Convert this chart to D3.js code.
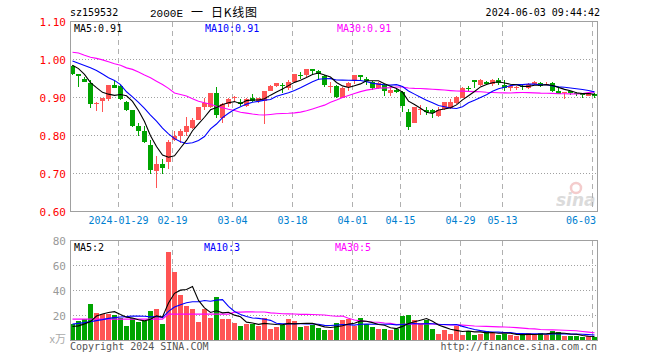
<!DOCTYPE html>
<html><head><meta charset="utf-8">
<script src="https://cdn.jsdelivr.net/npm/d3@7"></script>
<style>
html,body{margin:0;padding:0;background:#fff;}
svg{display:block;}
text{font-family:"DejaVu Sans Mono",monospace;font-size:10px;}
</style></head><body>
<svg id="chart" width="660" height="360"></svg>
<script>
// ---- data ----
const dates = ["2024-01-17","2024-01-18","2024-01-19","2024-01-22","2024-01-23","2024-01-24","2024-01-25","2024-01-26",
"2024-01-29","2024-01-30","2024-01-31","2024-02-01","2024-02-02","2024-02-05","2024-02-06","2024-02-07","2024-02-08",
"2024-02-19","2024-02-20","2024-02-21","2024-02-22","2024-02-23","2024-02-26","2024-02-27","2024-02-28","2024-02-29","2024-03-01",
"2024-03-04","2024-03-05","2024-03-06","2024-03-07","2024-03-08","2024-03-11","2024-03-12","2024-03-13","2024-03-14","2024-03-15",
"2024-03-18","2024-03-19","2024-03-20","2024-03-21","2024-03-22","2024-03-25","2024-03-26","2024-03-27","2024-03-28","2024-03-29",
"2024-04-01","2024-04-02","2024-04-03","2024-04-08","2024-04-09","2024-04-10","2024-04-11","2024-04-12",
"2024-04-15","2024-04-16","2024-04-17","2024-04-18","2024-04-19","2024-04-22","2024-04-23","2024-04-24","2024-04-25","2024-04-26",
"2024-04-29","2024-04-30","2024-05-06","2024-05-07","2024-05-08","2024-05-09","2024-05-10",
"2024-05-13","2024-05-14","2024-05-15","2024-05-16","2024-05-17","2024-05-20","2024-05-21","2024-05-22","2024-05-23","2024-05-24",
"2024-05-27","2024-05-28","2024-05-29","2024-05-30","2024-05-31","2024-06-03"];

const open  = [0.983,0.963,0.950,0.939,0.884,0.890,0.896,0.932,0.930,0.889,0.866,0.824,0.813,0.776,0.706,0.726,0.730,0.787,0.798,0.809,0.820,0.842,0.875,0.875,0.911,0.845,0.883,0.899,0.889,0.877,0.898,0.890,0.892,0.918,0.929,0.933,0.924,0.942,0.959,0.958,0.974,0.971,0.956,0.928,0.929,0.899,0.927,0.943,0.958,0.949,0.942,0.924,0.934,0.912,0.921,0.914,0.863,0.833,0.868,0.868,0.866,0.852,0.869,0.873,0.886,0.900,0.924,0.945,0.932,0.942,0.936,0.947,0.934,0.925,0.926,0.931,0.925,0.936,0.939,0.933,0.939,0.916,0.912,0.916,0.911,0.909,0.905,0.908];
const high  = [0.985,0.963,0.954,0.945,0.889,0.900,0.932,0.945,0.933,0.892,0.866,0.832,0.826,0.789,0.747,0.739,0.789,0.813,0.816,0.850,0.845,0.876,0.899,0.911,0.927,0.886,0.899,0.905,0.897,0.899,0.908,0.900,0.918,0.934,0.939,0.939,0.945,0.962,0.966,0.974,0.976,0.972,0.959,0.940,0.932,0.928,0.940,0.959,0.958,0.954,0.944,0.941,0.935,0.927,0.925,0.918,0.871,0.875,0.880,0.876,0.870,0.874,0.888,0.895,0.905,0.928,0.930,0.945,0.948,0.943,0.948,0.952,0.947,0.932,0.931,0.934,0.937,0.943,0.940,0.942,0.940,0.924,0.915,0.917,0.914,0.910,0.914,0.912];
const low   = [0.959,0.927,0.940,0.873,0.864,0.861,0.890,0.924,0.894,0.864,0.823,0.798,0.780,0.700,0.661,0.699,0.712,0.785,0.781,0.798,0.818,0.842,0.868,0.873,0.846,0.832,0.875,0.890,0.877,0.875,0.888,0.885,0.829,0.917,0.928,0.912,0.921,0.940,0.949,0.955,0.959,0.947,0.928,0.912,0.899,0.899,0.916,0.936,0.943,0.932,0.921,0.922,0.905,0.904,0.911,0.861,0.814,0.832,0.855,0.855,0.845,0.849,0.867,0.871,0.884,0.898,0.915,0.925,0.930,0.932,0.931,0.933,0.917,0.918,0.920,0.921,0.923,0.934,0.927,0.932,0.915,0.909,0.896,0.906,0.904,0.899,0.903,0.899];
const close = [0.961,0.956,0.942,0.884,0.886,0.900,0.932,0.926,0.896,0.868,0.826,0.813,0.782,0.709,0.726,0.714,0.783,0.800,0.813,0.825,0.842,0.874,0.886,0.911,0.854,0.882,0.897,0.902,0.883,0.895,0.890,0.898,0.918,0.930,0.937,0.929,0.942,0.961,0.957,0.974,0.970,0.961,0.934,0.931,0.901,0.926,0.939,0.958,0.955,0.943,0.926,0.939,0.918,0.921,0.914,0.877,0.822,0.874,0.871,0.863,0.860,0.867,0.887,0.887,0.902,0.926,0.922,0.942,0.947,0.935,0.947,0.937,0.925,0.930,0.928,0.927,0.936,0.941,0.929,0.936,0.917,0.910,0.915,0.911,0.909,0.906,0.911,0.904];
const volume = [13.4,15.8,17,29.4,22.2,21.6,21.6,20.6,17.9,11.7,17.9,15.2,16,24,25.4,13.4,71,55,36.6,28,25.4,15.2,25.4,18.1,35,16.9,17.4,14,11.7,13.4,13.4,11.9,18.1,9.5,11.1,12.5,17.4,16,11,11.7,12.5,10.4,8.8,8.8,14.2,16.8,17.1,12,18.2,13.1,11,9.5,9.5,8.1,9.5,19.9,20.7,16.7,14.3,16.1,9.5,5.5,8.1,5.5,12,4.8,7.5,4.8,5.5,8,6,4.8,5.5,4.8,3.5,4.8,6,4.8,6,4.8,8,6.5,3.5,3.5,3.5,2.8,3.5,2.5];

// moving-average values before enough history exists inside the window
const ma5Head  = [0.985,0.976,0.961,0.939];
const ma10Head = [0.996,0.990,0.984,0.978,0.971,0.962,0.952,0.945,0.934];
const ma30Head = [1.019,1.017,1.011,1.006,1.003,0.999,0.994,0.989,0.985,0.978,0.974,0.967,0.959,0.952,0.943,0.934,0.924,0.912,0.908,0.904,0.897,0.890,0.886,0.882,0.877,0.873,0.869,0.866,0.861];
const vma5Head  = [11.2,11.7,13.3,15.1];
const vma10Head = [13.1,13.7,14.3,15.1,15.9,16.7,17.7,18.3,18.8];
const vma30Head = [17.1,17.1,17.1,17.1,17.1,17.1,17.1,17.1,17.1,17.1,17.1,17.1,17.1,17.1,17.1,17.1,21.1,21.1,21.1,21.1,21.1,21.1,21.1,21.1,21.1,21.1,21.1,22.7,22.7];

const priceTicks = [1.10,1.00,0.90,0.80,0.70,0.60];
const volTicks = [80,60,40,20];
const xTickDates = ["2024-01-29","2024-02-19","2024-03-04","2024-03-18","2024-04-01","2024-04-15","2024-04-29","2024-05-13","2024-06-03"];
const xTickLabels = ["2024-01-29","02-19","03-04","03-18","04-01","04-15","04-29","05-13","06-03"];

// ---- helpers ----
function ma(arr, n, head){
  return arr.map((v,i)=> i < n-1 ? head[i] : d3.mean(arr.slice(i-n+1,i+1)));
}
const ma5 = ma(close,5,ma5Head), ma10 = ma(close,10,ma10Head), ma30 = ma(close,30,ma30Head);
const vma5 = ma(volume,5,vma5Head), vma10 = ma(volume,10,vma10Head), vma30 = ma(volume,30,vma30Head);

const RED="#ff5454", GREEN="#00a400", GRAY="#a0a0a0";
const svg = d3.select("#chart");

const L=70, R=597;
const x = d3.scaleBand().domain(dates).range([L, L+6*dates.length-1]).paddingInner(1/6).paddingOuter(0);
const bw = x.bandwidth();
const y = d3.scaleLinear().domain([0.6,1.1]).range([211.5,21.5]);
const yv = d3.scaleLinear().domain([0,80]).range([340.5,240.5]);

// ---- header ----
svg.append("text").attr("x",70).attr("y",16).attr("fill","#000").text("sz159532");
svg.append("text").attr("x",150).attr("y",17).style("font-family","'Liberation Mono',monospace").style("font-size","11px").text("2000E");
svg.append("text").attr("x",191).attr("y",17).style("font-family","'Noto Sans CJK SC'").style("font-size","12px").text("一");
svg.append("text").attr("x",211).attr("y",17).style("font-family","'Noto Sans CJK SC'").style("font-size","12px").attr("textLength",46).text("日K线图");
svg.append("text").attr("x",600).attr("y",16).attr("text-anchor","end").text("2024-06-03 09:44:42");

// ---- watermark ----
const wm = svg.append("g").attr("opacity",0.35);
wm.append("text").attr("x",556).attr("y",206).style("font-family","'DejaVu Sans',sans-serif").style("font-size","17px")
  .style("font-weight","bold").style("font-style","italic").attr("fill","#999").text("sina");
wm.append("circle").attr("cx",576).attr("cy",188).attr("r",5).attr("fill","none").attr("stroke","#e07070").attr("stroke-width",2.5);

function panel(top,bottom,ys,gridVals){
  const g = svg.append("g");
  g.selectAll(".hg").data(gridVals).join("line")
    .attr("x1",L).attr("x2",R).attr("y1",d=>ys(d)).attr("y2",d=>ys(d))
    .attr("stroke","#a0a0a0").attr("stroke-dasharray","1,2").attr("shape-rendering","crispEdges");
  g.selectAll(".vg").data(xTickDates).join("line")
    .attr("x1",d=>x(d)+0.5).attr("x2",d=>x(d)+0.5).attr("y1",top).attr("y2",bottom)
    .attr("stroke","#b0b0b0").attr("stroke-dasharray","5,4").attr("shape-rendering","crispEdges");
  return g;
}
panel(21.5,211.5,y,[1.0,0.9,0.8,0.7]);
panel(240.5,340.5,yv,[60,40,20]);

// ---- candles ----
const data = dates.map((d,i)=>({d,o:open[i],h:high[i],l:low[i],c:close[i],v:volume[i]}));
const cg = svg.append("g").attr("shape-rendering","crispEdges");
cg.selectAll(".wick").data(data).join("line")
  .attr("x1",d=>Math.floor(x(d.d)+bw/2)+0.5).attr("x2",d=>Math.floor(x(d.d)+bw/2)+0.5)
  .attr("y1",d=>y(d.h)).attr("y2",d=>y(d.l))
  .attr("stroke",d=>d.c>=d.o?RED:GREEN);
cg.selectAll(".body").data(data).join("rect")
  .attr("x",d=>x(d.d)).attr("width",bw)
  .attr("y",d=>y(Math.max(d.o,d.c)))
  .attr("height",d=>Math.max(1,Math.abs(y(d.o)-y(d.c))))
  .attr("fill",d=>d.c>=d.o?RED:GREEN);

// ---- volume bars ----
svg.append("g").attr("shape-rendering","crispEdges").selectAll("rect").data(data).join("rect")
  .attr("x",d=>x(d.d)).attr("width",bw)
  .attr("y",d=>yv(d.v)).attr("height",d=>yv(0)-yv(d.v))
  .attr("fill",d=>d.c>=d.o?RED:GREEN);

// ---- MA lines ----
function drawLine(vals,ys,color){
  const line = d3.line().x((v,i)=>x(dates[i])+bw/2).y(v=>ys(v));
  svg.append("path").datum(vals).attr("d",line).attr("fill","none").attr("stroke",color).attr("stroke-width",1.1);
}
drawLine(ma30,y,"#ff00ff"); drawLine(ma10,y,"#0000ff"); drawLine(ma5,y,"#000");
drawLine(vma30,yv,"#ff00ff"); drawLine(vma10,yv,"#0000ff"); drawLine(vma5,yv,"#000");

// ---- frames ----
svg.append("rect").attr("x",70.5).attr("y",21.5).attr("width",R-70).attr("height",190).attr("fill","none").attr("stroke",GRAY).attr("shape-rendering","crispEdges");
svg.append("rect").attr("x",70.5).attr("y",240.5).attr("width",R-70).attr("height",100).attr("fill","none").attr("stroke",GRAY).attr("shape-rendering","crispEdges");

// ---- axis labels ----
const yAxis = d3.axisLeft(y).tickValues(priceTicks).tickFormat(d3.format(".2f")).tickSize(0).tickPadding(4);
const ya = svg.append("g").attr("transform","translate(70,0)").call(yAxis);
ya.select(".domain").remove();
ya.selectAll("text").attr("fill","#ff0000").style("font-size","11px").attr("dy","0.35em");

const vAxis = d3.axisLeft(yv).tickValues(volTicks).tickFormat(d3.format("d")).tickSize(0).tickPadding(4);
const va = svg.append("g").attr("transform","translate(70,0)").call(vAxis);
va.select(".domain").remove();
va.selectAll("text").attr("fill","#999").style("font-size","11px").attr("dy","0.35em");
svg.append("text").attr("x",66).attr("y",343).attr("text-anchor","end").attr("fill","#aaa").style("font-family","'Noto Sans CJK SC'").style("font-size","11px").text("x万");

const xa = svg.append("g").attr("transform","translate(0,211)")
  .call(d3.axisBottom(x).tickValues(xTickDates).tickFormat((d,i)=>xTickLabels[i]).tickSize(0).tickPadding(6));
xa.select(".domain").remove();
xa.selectAll(".tick").attr("transform",d=>{
  const lbl = xTickLabels[xTickDates.indexOf(d)];
  let cx = x(d)+0.5; const hw = lbl.length*3;
  if (cx+hw > 596) cx = 596-hw;
  return `translate(${cx},0)`;
});
xa.selectAll("text").attr("fill","#0080d0").style("font-size","10px").style("font-family","'DejaVu Sans Mono',monospace");

// ---- legends ----
const f2 = d3.format(".2f");
const last = close.length-1;
svg.append("text").attr("x",74).attr("y",32).attr("fill","#000").text("MA5:"+f2(ma5[last]));
svg.append("text").attr("x",205).attr("y",32).attr("fill","#0000ff").text("MA10:"+f2(ma10[last]));
svg.append("text").attr("x",337).attr("y",32).attr("fill","#ff00ff").text("MA30:"+f2(ma30[last]));
svg.append("text").attr("x",74).attr("y",251).attr("fill","#000").text("MA5:2");
svg.append("text").attr("x",204).attr("y",251).attr("fill","#0000ff").text("MA10:3");
svg.append("text").attr("x",335).attr("y",251).attr("fill","#ff00ff").text("MA30:5");

// ---- footer ----
svg.append("text").attr("x",70).attr("y",350).attr("fill","#555").text("Copyright 2024 SINA.COM");
svg.append("text").attr("x",597).attr("y",350).attr("text-anchor","end").attr("fill","#555").text("http://finance.sina.com.cn");
</script>
</body></html>
